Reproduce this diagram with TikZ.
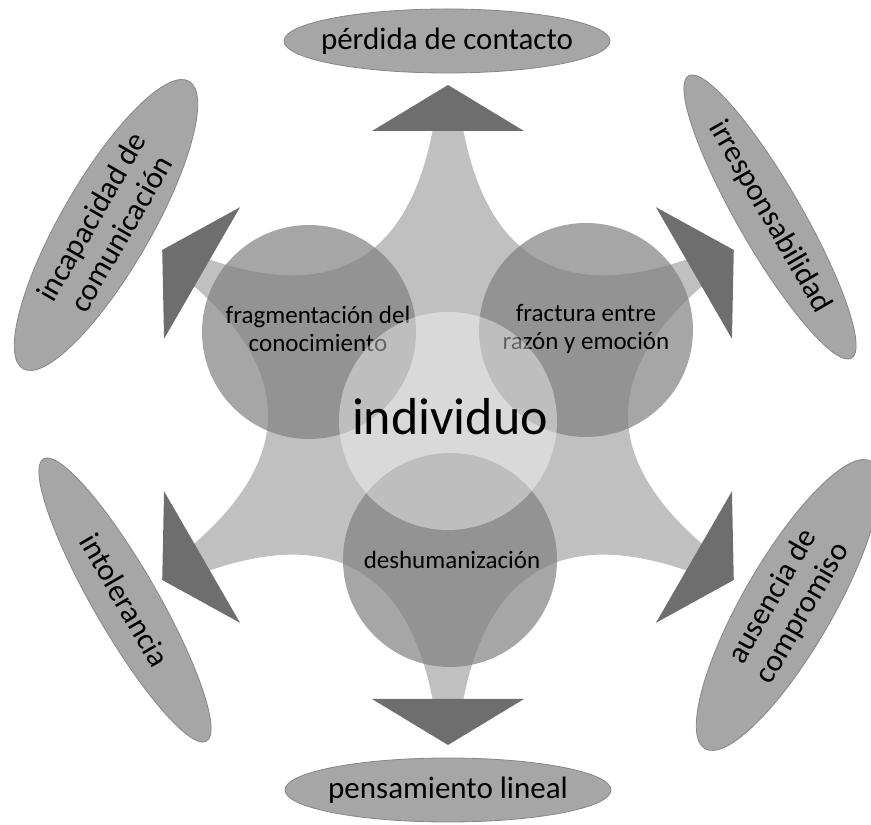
\documentclass[tikz,border=0pt]{standalone}
\usepackage{fontspec}
\setmainfont{Carlito}
\usetikzlibrary{calc,shapes.geometric}
\definecolor{OvalGray}{RGB}{166,166,166}
\definecolor{OvalEdge}{RGB}{135,135,135}
\definecolor{ArrowGray}{RGB}{110,110,110}
\definecolor{StarGray}{RGB}{192,192,192}
\definecolor{BallGray}{RGB}{128,128,128}

\tikzset{
  oval/.style={ellipse, fill=OvalGray, draw=OvalEdge, line width=0.8pt,
    minimum width=326pt, minimum height=64pt, inner sep=0pt},
  wideoval/.style={oval, minimum width=332pt, minimum height=90pt},
  ball/.style={circle, fill=BallGray, fill opacity=0.7, minimum size=214pt, inner sep=0pt},
  core/.style={circle, fill=white, fill opacity=0.4, minimum size=218pt, inner sep=0pt},
  tip/.style={fill=ArrowGray},
  lbl/.style={align=center, inner sep=0pt, font=\fontsize{31}{34}\selectfont},
  small/.style={lbl, font=\fontsize{25}{28}\selectfont},
  big/.style={lbl, font=\fontsize{52}{56}\selectfont},
}

\begin{document}
\begin{tikzpicture}[x=1pt,y=1pt]
\useasboundingbox (0,0) rectangle (871,825);
\coordinate (O) at (448,410);

% star with concave sides
\foreach \t [count=\i] in {90,150,210,270,330,30} {
  \coordinate (a\i) at ($(O)+(\t:292)+(\t-90:14)$);
  \coordinate (b\i) at ($(O)+(\t:292)+(\t+90:14)$);
  \coordinate (c\i) at ($(O)+(\t+30:100)$);
}
\fill[StarGray] (a1)
  \foreach \i/\j in {1/2,2/3,3/4,4/5,5/6,6/1} {
    -- (b\i) .. controls ($(b\i)!.667!(c\i)$) and ($(a\j)!.667!(c\i)$) .. (a\j)
  } -- cycle;

% arrow heads
\foreach \t in {90,150,210,270,330,30}
  \fill[tip] ($(O)+(\t:330)$) -- ($(O)+(\t:284)+(\t+90:76)$)
    -- ($(O)+(\t:284)+(\t-90:76)$) -- cycle;

% three circles
\node[ball] (frag) at (309,493) {};
\node[ball] (fract) at (586,495) {};
\node[ball] (desh) at (450,265) {};
\node[small] (fragtxt) at (318,496) {fragmentación del\\conocimiento};
\node[small] (fracttxt) at (586,496) {fractura entre\\razón y emoción};
\node[small] (deshtxt) at (452,265) {deshumanización};

% centre
\node[core] (indiv) at (448,404) {};
\node[big] (indivtxt) at (450,408) {individuo};

% outer ovals
\node[oval] (contacto) at (447,784) {};
\node[oval] (lineal) at (448,35) {};
\node[wideoval, rotate=60] (comunic) at (106,600) {};
\node[oval, rotate=-60] (irresp) at (770,608) {};
\node[oval, rotate=-60] (intol) at (125,225) {};
\node[wideoval, rotate=60] (compro) at (788,220) {};
\node[lbl] at (contacto) {pérdida de contacto};
\node[lbl] at (lineal) {pensamiento lineal};
\node[lbl, rotate=60] at (comunic) {incapacidad de\\comunicación};
\node[lbl, rotate=-60] at (irresp) {irresponsabilidad};
\node[lbl, rotate=-60] at (intol) {intolerancia};
\node[lbl, rotate=60] at (compro) {ausencia de\\compromiso};
\end{tikzpicture}
\end{document}
